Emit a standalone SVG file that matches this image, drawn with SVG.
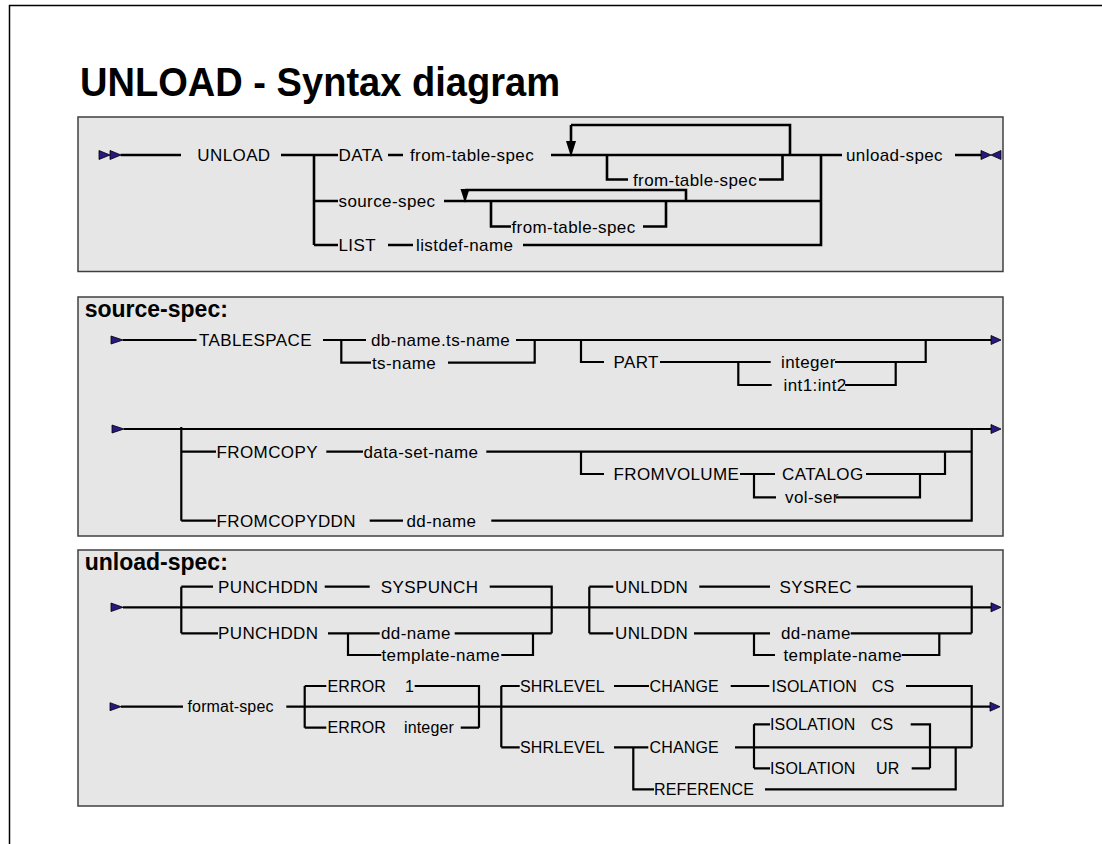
<svg xmlns="http://www.w3.org/2000/svg" width="1102" height="844" viewBox="0 0 1102 844">
<style>
.frame{stroke:#000;stroke-width:1.5;fill:none}
.panel{fill:#e6e6e6;stroke:#404040;stroke-width:1.5}
.l{stroke:#000;stroke-width:2.2;fill:none}
.l1{stroke-width:2.6}
.t{font-family:"Liberation Sans",Arial,sans-serif;font-size:17px;letter-spacing:0.4px;fill:#000}
.s{font-size:16px;letter-spacing:0.15px}
.h{font-family:"Liberation Sans",Arial,sans-serif;font-size:23px;font-weight:bold;fill:#000}
.title{font-family:"Liberation Sans",Arial,sans-serif;font-size:40px;font-weight:bold;fill:#000}
.ar{fill:#2a1780;stroke:#000;stroke-width:0.8}
.dn{fill:#000}
</style>
<rect width="1102" height="844" fill="#fff"/>
<path class="frame" d="M9.5 844 V5.5 H1102"/>
<text class="title" x="80" y="96" textLength="480" lengthAdjust="spacingAndGlyphs">UNLOAD - Syntax diagram</text>
<rect class="panel" x="78" y="117" width="925" height="154.5"/>
<rect class="panel" x="78" y="297" width="925" height="239"/>
<rect class="panel" x="78" y="550" width="925" height="256"/>
<text class="h" x="84.7" y="317.3">source-spec:</text>
<text class="h" x="84.7" y="570">unload-spec:</text>
<g id="connectors">
<path class="l l1" d="M120.7 155 H181 M281 155 H338 M314 155 V245 M314 201 H338 M314 245 H338 M388 155 H403 M551 155 H842 M571 125 H790 V155 M571 125 V142 M607 155 V179.5 H628 M759 179.5 H782.5 V155 M444 201 H821 M465 190 H686 V201 M491 201 V226.5 H511 M643 226.5 H666 V201 M388 245 H413 M523 245 H821 V155 M955 155 H982"/>
<polygon class="dn" points="566,141 576,141 571,157"/>
<polygon class="dn" points="460.5,189 469.5,189 465,203"/>
<polygon class="ar" points="99,150.5 99,159.5 110,155"/>
<polygon class="ar" points="110,150.5 110,159.5 121,155"/>
<polygon class="ar" points="981,150.5 981,159.5 991,155"/>
<polygon class="ar" points="1001,150.5 1001,159.5 991,155"/>
<path class="l" d="M123 340 H196.5 M323 340 H366 M516 340 H991 M341.3 340 V362.7 H371 M448 362.7 H534.7 V340 M581 340 V362 H604 M660 362 H770.7 M738.3 362 V385 H771.7 M835 362 H925.7 V340 M845 385 H895.7 V362"/>
<polygon class="ar" points="111,336 111,344 123,340"/>
<polygon class="ar" points="991,335.5 991,344.5 1001,340"/>
<path class="l" d="M124 429 H991 M181.3 427 V520.7 M181.3 451.7 H216 M326.3 451.7 H363 M486.3 451.7 H971.7 M581 451.7 V474 H604 M740 474 H775 M754 474 V497.3 H776 M866 474 H945 V451.7 M836 497.3 H920 V474 M181.3 520.7 H216 M369.7 520.7 H403 M491.3 520.7 H971.7 V429"/>
<polygon class="ar" points="112,425 112,433 124,429"/>
<polygon class="ar" points="991,424.5 991,433.5 1001,429"/>
<path class="l" d="M123 607.3 H991 M181.3 586.7 V633.3 M181.3 586.7 H213 M324.7 586.7 H369.7 M489.7 586.7 H551.7 V633.3 M181.3 633.3 H218 M328 633.3 H379.7 M454.7 633.3 H551.7 M348 633.3 V655 H381.3 M501.3 655 H533 V633.3 M589.3 586.7 V633.3 M589.3 586.7 H613.3 M699.3 586.7 H770 M856.7 586.7 H971.7 V633.3 M589.3 633.3 H613.3 M694 633.3 H770 M754 633.3 V655 H775 M850.7 633.3 H971.7 M901.7 655 H939.3 V633.3"/>
<polygon class="ar" points="111,603 111,611.5 123,607.3"/>
<polygon class="ar" points="991,602.8 991,611.8 1001,607.3"/>
<path class="l" d="M121 706.7 H183 M286.3 706.7 H991 M304.7 686 V727.7 M304.7 686 H326.3 M414.7 686 H479 V727.7 M304.7 727.7 H326.3 M460.7 727.7 H479 M501.3 686 V747.3 M501.3 686 H519.7 M614 686 H649 M730.7 686 H769.3 M906 686 H971.7 V747.3 M501.3 747.3 H519.7 M614 747.3 H648.3 M735 747.3 H971.7 M754 724.3 V768.3 M754 724.3 H770 M910.7 724.3 H930 V768.3 M754 768.3 H770 M911.7 768.3 H930 M633.3 747.3 V789.3 H654 M765 789.3 H955.7 V747.3"/>
<polygon class="ar" points="110,702.7 110,710.7 121,706.7"/>
<polygon class="ar" points="990,702.2 990,711.2 1000,706.7"/>
</g>
<g id="n-unload"><text class="t" x="197.3" y="161">UNLOAD</text></g>
<g id="n-data"><text class="t" x="338.5" y="161">DATA</text></g>
<g id="n-fts1"><text class="t" x="410" y="161">from-table-spec</text></g>
<g id="n-fts2"><text class="t" x="633" y="185.5">from-table-spec</text></g>
<g id="n-unloadspec"><text class="t" x="846" y="161">unload-spec</text></g>
<g id="n-sourcespec"><text class="t" x="338.5" y="207">source-spec</text></g>
<g id="n-fts3"><text class="t" x="511.5" y="232.5">from-table-spec</text></g>
<g id="n-list"><text class="t" x="338.5" y="251">LIST</text></g>
<g id="n-listdef"><text class="t" x="416" y="251">listdef-name</text></g>
<g id="n-tablespace"><text class="t" x="199" y="346">TABLESPACE</text></g>
<g id="n-dbts"><text class="t" x="371" y="346">db-name.ts-name</text></g>
<g id="n-tsname"><text class="t" x="372" y="368.7">ts-name</text></g>
<g id="n-part"><text class="t" x="613.5" y="368">PART</text></g>
<g id="n-integer"><text class="t" x="781" y="368">integer</text></g>
<g id="n-int12"><text class="t" x="783.5" y="391">int1:int2</text></g>
<g id="n-fromcopy"><text class="t" x="216.5" y="457.7">FROMCOPY</text></g>
<g id="n-dsn"><text class="t" x="363.5" y="457.7">data-set-name</text></g>
<g id="n-fromvolume"><text class="t" x="613.5" y="480">FROMVOLUME</text></g>
<g id="n-catalog"><text class="t" x="782" y="480">CATALOG</text></g>
<g id="n-volser"><text class="t" x="785" y="503.3">vol-ser</text></g>
<g id="n-fromcopyddn"><text class="t" x="216.5" y="526.7">FROMCOPYDDN</text></g>
<g id="n-ddname1"><text class="t" x="406.5" y="526.7">dd-name</text></g>
<g id="n-punch1"><text class="t" x="218" y="592.7">PUNCHDDN</text></g>
<g id="n-syspunch"><text class="t" x="380.7" y="592.7">SYSPUNCH</text></g>
<g id="n-punch2"><text class="t" x="218" y="639.3">PUNCHDDN</text></g>
<g id="n-ddname2"><text class="t" x="381" y="639.3">dd-name</text></g>
<g id="n-tmpl1"><text class="t" x="381.5" y="661">template-name</text></g>
<g id="n-unlddn1"><text class="t" x="615" y="592.7">UNLDDN</text></g>
<g id="n-sysrec"><text class="t" x="779.5" y="592.7">SYSREC</text></g>
<g id="n-unlddn2"><text class="t" x="615" y="639.3">UNLDDN</text></g>
<g id="n-ddname3"><text class="t" x="781" y="639.3">dd-name</text></g>
<g id="n-tmpl2"><text class="t" x="783.5" y="661">template-name</text></g>
<g id="n-formatspec"><text class="t s" x="187.5" y="712.3">format-spec</text></g>
<g id="n-error1"><text class="t s" x="327.5" y="691.7">ERROR</text><text class="t s" x="405" y="691.7">1</text></g>
<g id="n-error2"><text class="t s" x="327.5" y="733.4">ERROR</text><text class="t s" x="404" y="733.4">integer</text></g>
<g id="n-shr1"><text class="t s" x="520" y="691.7">SHRLEVEL</text></g>
<g id="n-change1"><text class="t s" x="649.5" y="691.7">CHANGE</text></g>
<g id="n-iso0"><text class="t s" x="771.5" y="691.7">ISOLATION</text><text class="t s" x="871.7" y="691.7">CS</text></g>
<g id="n-shr2"><text class="t s" x="520" y="753">SHRLEVEL</text></g>
<g id="n-change2"><text class="t s" x="649.5" y="753">CHANGE</text></g>
<g id="n-iso1"><text class="t s" x="770" y="730">ISOLATION</text><text class="t s" x="870.7" y="730">CS</text></g>
<g id="n-iso2"><text class="t s" x="770" y="774">ISOLATION</text><text class="t s" x="876" y="774">UR</text></g>
<g id="n-reference"><text class="t s" x="654" y="795">REFERENCE</text></g>
</svg>
